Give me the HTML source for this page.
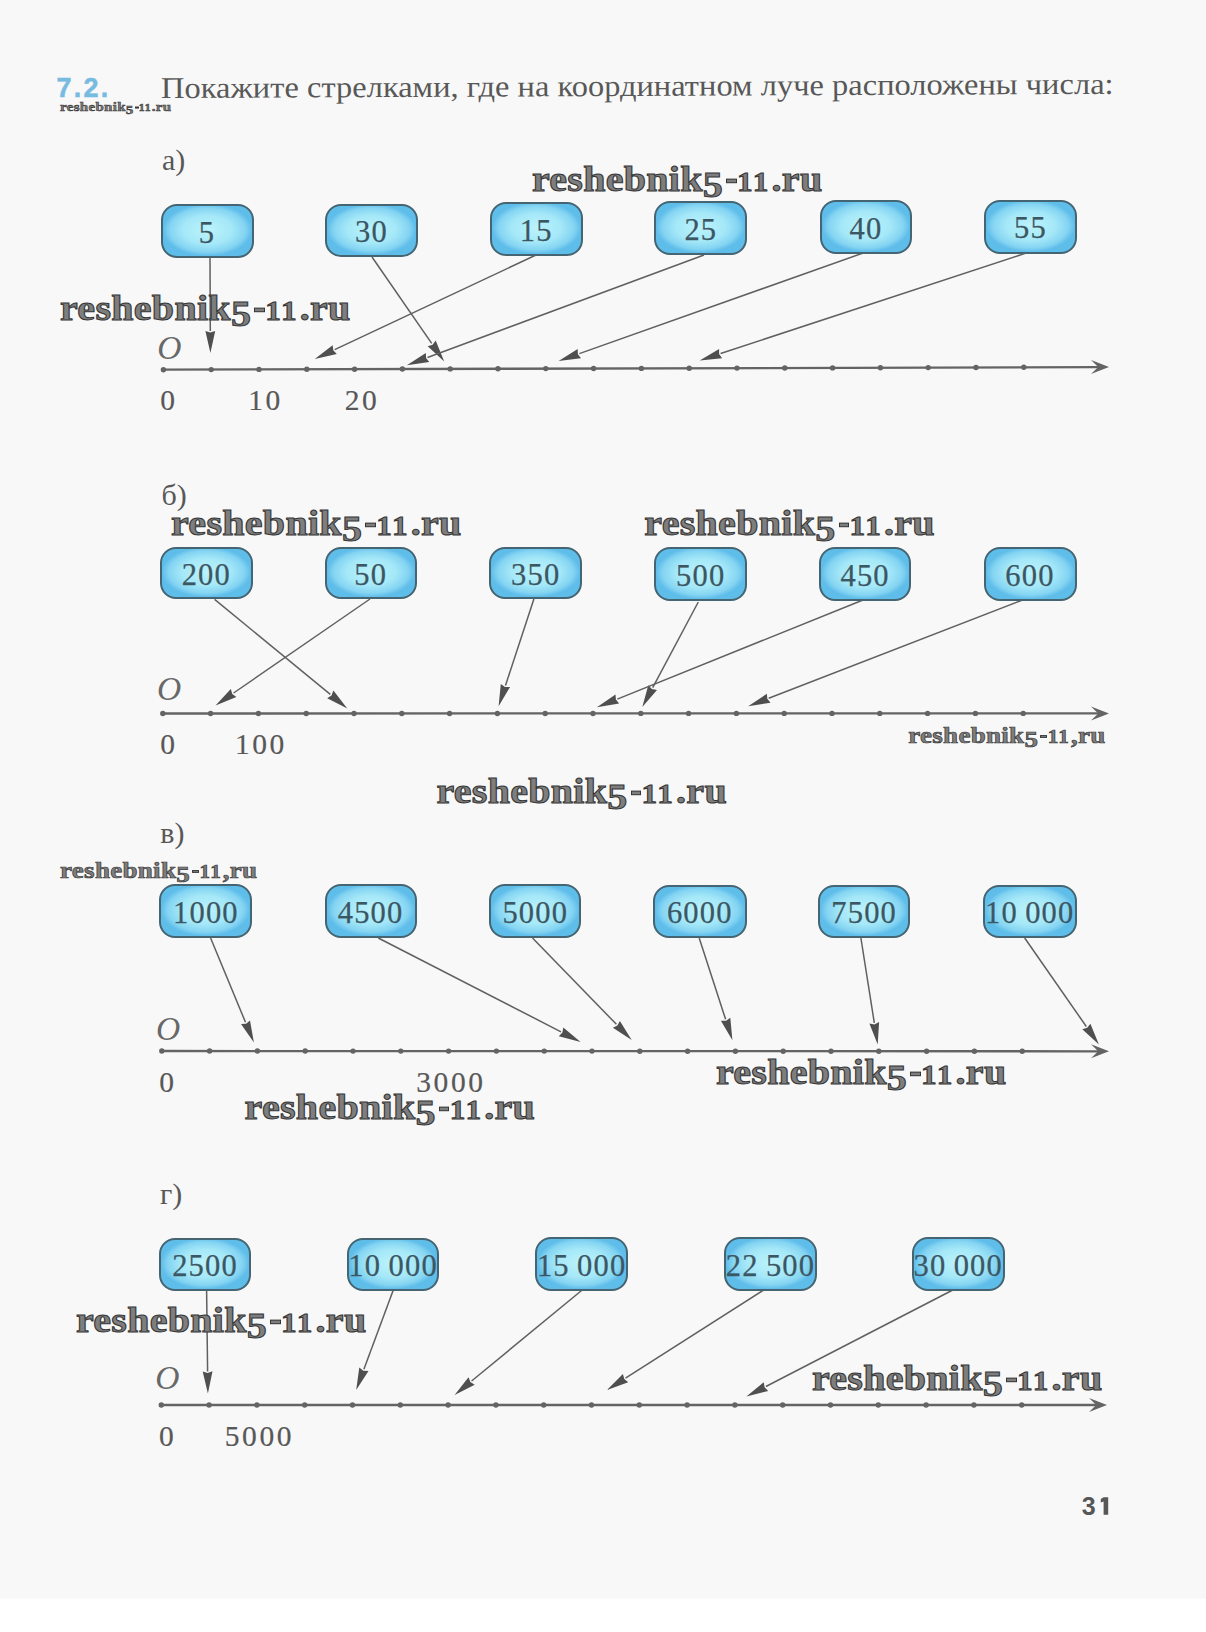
<!DOCTYPE html>
<html><head><meta charset="utf-8"><style>
html,body{margin:0;padding:0;}
body{width:1206px;height:1632px;position:relative;overflow:hidden;background:#fff;}
.page{position:absolute;left:0;top:0;width:1206px;height:1598px;background:#f8f8f8;box-shadow:0 1px 0 #fbfbfb;}
.bx{position:absolute;box-sizing:border-box;border:2px solid #456572;border-radius:16px;
background:radial-gradient(ellipse farthest-side at 50% 48%, #bcf3fb 0%, #a5e8f8 55%, #84d4f2 85%, #5fbdea 100%);
display:flex;align-items:center;justify-content:center;padding-top:4px;}
.bx span{font-family:'Liberation Serif',serif;color:#3c5764;line-height:1;white-space:nowrap;-webkit-text-stroke:0.25px #3c5764;}
.wm{position:absolute;font-family:'Liberation Serif',serif;font-weight:bold;color:#7e7e7e;line-height:1;white-space:nowrap;transform:scaleY(0.88);letter-spacing:0.3px;}
.w5{font-size:1.0em;position:relative;top:0.17em;}
.w1{font-size:0.78em;letter-spacing:0.06em;margin-right:0.04em;}
.wd{display:inline-block;width:0.26em;height:0.12em;background:#7e7e7e;border:1px solid #363636;box-sizing:border-box;margin:0 0.01em 0 0.08em;vertical-align:0.22em;}
svg{position:absolute;left:0;top:0;}
</style></head><body><div class="page"></div>
<svg width="1206" height="1632" viewBox="0 0 1206 1632">
<line x1="162" y1="369.7" x2="1098.2" y2="367.13" stroke="#646464" stroke-width="2.3"/>
<polygon points="1109,367.1 1091,360.1 1098.2,367.1 1091,374.1" fill="#646464"/>
<circle cx="163.4" cy="369.7" r="2.7" fill="#646464"/>
<circle cx="211.2" cy="369.6" r="2.7" fill="#646464"/>
<circle cx="259.0" cy="369.4" r="2.7" fill="#646464"/>
<circle cx="306.8" cy="369.3" r="2.7" fill="#646464"/>
<circle cx="354.6" cy="369.2" r="2.7" fill="#646464"/>
<circle cx="402.4" cy="369.0" r="2.7" fill="#646464"/>
<circle cx="450.2" cy="368.9" r="2.7" fill="#646464"/>
<circle cx="498.0" cy="368.8" r="2.7" fill="#646464"/>
<circle cx="545.8" cy="368.6" r="2.7" fill="#646464"/>
<circle cx="593.6" cy="368.5" r="2.7" fill="#646464"/>
<circle cx="641.4" cy="368.4" r="2.7" fill="#646464"/>
<circle cx="689.2" cy="368.3" r="2.7" fill="#646464"/>
<circle cx="737.0" cy="368.1" r="2.7" fill="#646464"/>
<circle cx="784.8" cy="368.0" r="2.7" fill="#646464"/>
<circle cx="832.6" cy="367.9" r="2.7" fill="#646464"/>
<circle cx="880.4" cy="367.7" r="2.7" fill="#646464"/>
<circle cx="928.2" cy="367.6" r="2.7" fill="#646464"/>
<circle cx="976.0" cy="367.5" r="2.7" fill="#646464"/>
<circle cx="1023.8" cy="367.3" r="2.7" fill="#646464"/>
<line x1="210.0" y1="257.0" x2="210.3" y2="331.0" stroke="#606060" stroke-width="1.5"/>
<polygon points="210.4,353.0 205.4,331.0 210.3,332.5 215.2,331.0" fill="#4f4f4f"/>
<line x1="372.0" y1="257.0" x2="431.7" y2="343.4" stroke="#606060" stroke-width="1.5"/>
<polygon points="444.2,361.5 427.7,346.2 432.6,344.7 435.7,340.6" fill="#4f4f4f"/>
<line x1="536.0" y1="255.0" x2="334.7" y2="349.6" stroke="#606060" stroke-width="1.5"/>
<polygon points="314.8,359.0 332.6,345.2 333.3,350.3 336.8,354.1" fill="#4f4f4f"/>
<line x1="704.0" y1="255.0" x2="427.5" y2="357.5" stroke="#606060" stroke-width="1.5"/>
<polygon points="406.9,365.2 425.8,353.0 426.1,358.1 429.2,362.1" fill="#4f4f4f"/>
<line x1="862.6" y1="253.2" x2="579.3" y2="353.6" stroke="#606060" stroke-width="1.5"/>
<polygon points="558.6,361.0 577.7,349.0 577.9,354.2 581.0,358.3" fill="#4f4f4f"/>
<line x1="1026.0" y1="253.1" x2="720.6" y2="353.5" stroke="#606060" stroke-width="1.5"/>
<polygon points="699.7,360.4 719.1,348.9 719.1,354.0 722.1,358.2" fill="#4f4f4f"/>
<line x1="162" y1="713.5" x2="1098.2" y2="713.40" stroke="#646464" stroke-width="2.3"/>
<polygon points="1109,713.4 1091,706.4 1098.2,713.4 1091,720.4" fill="#646464"/>
<circle cx="162.8" cy="713.5" r="2.7" fill="#646464"/>
<circle cx="210.6" cy="713.5" r="2.7" fill="#646464"/>
<circle cx="258.4" cy="713.5" r="2.7" fill="#646464"/>
<circle cx="306.2" cy="713.5" r="2.7" fill="#646464"/>
<circle cx="354.0" cy="713.5" r="2.7" fill="#646464"/>
<circle cx="401.8" cy="713.5" r="2.7" fill="#646464"/>
<circle cx="449.6" cy="713.5" r="2.7" fill="#646464"/>
<circle cx="497.4" cy="713.5" r="2.7" fill="#646464"/>
<circle cx="545.2" cy="713.5" r="2.7" fill="#646464"/>
<circle cx="593.0" cy="713.5" r="2.7" fill="#646464"/>
<circle cx="640.8" cy="713.4" r="2.7" fill="#646464"/>
<circle cx="688.6" cy="713.4" r="2.7" fill="#646464"/>
<circle cx="736.4" cy="713.4" r="2.7" fill="#646464"/>
<circle cx="784.2" cy="713.4" r="2.7" fill="#646464"/>
<circle cx="832.0" cy="713.4" r="2.7" fill="#646464"/>
<circle cx="879.8" cy="713.4" r="2.7" fill="#646464"/>
<circle cx="927.6" cy="713.4" r="2.7" fill="#646464"/>
<circle cx="975.4" cy="713.4" r="2.7" fill="#646464"/>
<circle cx="1023.2" cy="713.4" r="2.7" fill="#646464"/>
<line x1="214.6" y1="599.4" x2="330.3" y2="694.4" stroke="#606060" stroke-width="1.5"/>
<polygon points="347.3,708.4 327.2,698.2 331.5,695.4 333.4,690.6" fill="#4f4f4f"/>
<line x1="370.0" y1="599.0" x2="233.6" y2="693.0" stroke="#606060" stroke-width="1.5"/>
<polygon points="215.5,705.5 230.8,689.0 232.3,693.9 236.4,697.0" fill="#4f4f4f"/>
<line x1="533.9" y1="599.0" x2="505.5" y2="685.4" stroke="#606060" stroke-width="1.5"/>
<polygon points="498.6,706.3 500.8,683.9 505.0,686.9 510.1,686.9" fill="#4f4f4f"/>
<line x1="698.3" y1="602.0" x2="652.7" y2="687.6" stroke="#606060" stroke-width="1.5"/>
<polygon points="642.3,707.0 648.3,685.3 651.9,688.9 657.0,689.9" fill="#4f4f4f"/>
<line x1="863.0" y1="600.0" x2="617.3" y2="699.1" stroke="#606060" stroke-width="1.5"/>
<polygon points="596.9,707.3 615.5,694.5 615.9,699.6 619.1,703.6" fill="#4f4f4f"/>
<line x1="1022.6" y1="600.0" x2="768.7" y2="698.3" stroke="#606060" stroke-width="1.5"/>
<polygon points="748.2,706.2 766.9,693.7 767.3,698.8 770.5,702.8" fill="#4f4f4f"/>
<line x1="162" y1="1051" x2="1098.2" y2="1051.30" stroke="#646464" stroke-width="2.3"/>
<polygon points="1109,1051.3 1091,1044.3 1098.2,1051.3 1091,1058.3" fill="#646464"/>
<circle cx="161.8" cy="1051.0" r="2.7" fill="#646464"/>
<circle cx="209.6" cy="1051.0" r="2.7" fill="#646464"/>
<circle cx="257.4" cy="1051.0" r="2.7" fill="#646464"/>
<circle cx="305.2" cy="1051.0" r="2.7" fill="#646464"/>
<circle cx="353.0" cy="1051.1" r="2.7" fill="#646464"/>
<circle cx="400.8" cy="1051.1" r="2.7" fill="#646464"/>
<circle cx="448.6" cy="1051.1" r="2.7" fill="#646464"/>
<circle cx="496.4" cy="1051.1" r="2.7" fill="#646464"/>
<circle cx="544.2" cy="1051.1" r="2.7" fill="#646464"/>
<circle cx="592.0" cy="1051.1" r="2.7" fill="#646464"/>
<circle cx="639.8" cy="1051.2" r="2.7" fill="#646464"/>
<circle cx="687.6" cy="1051.2" r="2.7" fill="#646464"/>
<circle cx="735.4" cy="1051.2" r="2.7" fill="#646464"/>
<circle cx="783.2" cy="1051.2" r="2.7" fill="#646464"/>
<circle cx="831.0" cy="1051.2" r="2.7" fill="#646464"/>
<circle cx="878.8" cy="1051.2" r="2.7" fill="#646464"/>
<circle cx="926.6" cy="1051.2" r="2.7" fill="#646464"/>
<circle cx="974.4" cy="1051.3" r="2.7" fill="#646464"/>
<circle cx="1022.2" cy="1051.3" r="2.7" fill="#646464"/>
<line x1="210.6" y1="938.0" x2="245.5" y2="1022.3" stroke="#606060" stroke-width="1.5"/>
<polygon points="253.9,1042.6 241.0,1024.1 246.1,1023.7 250.0,1020.4" fill="#4f4f4f"/>
<line x1="378.3" y1="938.0" x2="561.0" y2="1031.8" stroke="#606060" stroke-width="1.5"/>
<polygon points="580.6,1041.9 558.8,1036.2 562.4,1032.6 563.3,1027.5" fill="#4f4f4f"/>
<line x1="532.5" y1="938.0" x2="616.4" y2="1024.3" stroke="#606060" stroke-width="1.5"/>
<polygon points="631.7,1040.1 612.9,1027.7 617.4,1025.4 619.9,1020.9" fill="#4f4f4f"/>
<line x1="699.2" y1="938.0" x2="725.6" y2="1019.3" stroke="#606060" stroke-width="1.5"/>
<polygon points="732.4,1040.2 720.9,1020.8 726.1,1020.7 730.3,1017.8" fill="#4f4f4f"/>
<line x1="860.9" y1="938.0" x2="874.3" y2="1022.9" stroke="#606060" stroke-width="1.5"/>
<polygon points="877.7,1044.6 869.4,1023.6 874.5,1024.4 879.1,1022.1" fill="#4f4f4f"/>
<line x1="1024.7" y1="938.0" x2="1086.3" y2="1026.5" stroke="#606060" stroke-width="1.5"/>
<polygon points="1098.9,1044.6 1082.3,1029.3 1087.2,1027.8 1090.4,1023.7" fill="#4f4f4f"/>
<line x1="162" y1="1405" x2="1096.2" y2="1405.00" stroke="#646464" stroke-width="2.3"/>
<polygon points="1107,1405 1089,1398 1096.2,1405 1089,1412" fill="#646464"/>
<circle cx="161.3" cy="1405.0" r="2.7" fill="#646464"/>
<circle cx="209.1" cy="1405.0" r="2.7" fill="#646464"/>
<circle cx="256.9" cy="1405.0" r="2.7" fill="#646464"/>
<circle cx="304.7" cy="1405.0" r="2.7" fill="#646464"/>
<circle cx="352.5" cy="1405.0" r="2.7" fill="#646464"/>
<circle cx="400.3" cy="1405.0" r="2.7" fill="#646464"/>
<circle cx="448.1" cy="1405.0" r="2.7" fill="#646464"/>
<circle cx="495.9" cy="1405.0" r="2.7" fill="#646464"/>
<circle cx="543.7" cy="1405.0" r="2.7" fill="#646464"/>
<circle cx="591.5" cy="1405.0" r="2.7" fill="#646464"/>
<circle cx="639.3" cy="1405.0" r="2.7" fill="#646464"/>
<circle cx="687.1" cy="1405.0" r="2.7" fill="#646464"/>
<circle cx="734.9" cy="1405.0" r="2.7" fill="#646464"/>
<circle cx="782.7" cy="1405.0" r="2.7" fill="#646464"/>
<circle cx="830.5" cy="1405.0" r="2.7" fill="#646464"/>
<circle cx="878.3" cy="1405.0" r="2.7" fill="#646464"/>
<circle cx="926.1" cy="1405.0" r="2.7" fill="#646464"/>
<circle cx="973.9" cy="1405.0" r="2.7" fill="#646464"/>
<circle cx="1021.7" cy="1405.0" r="2.7" fill="#646464"/>
<line x1="206.6" y1="1290.0" x2="207.6" y2="1371.4" stroke="#606060" stroke-width="1.5"/>
<polygon points="207.9,1393.4 202.7,1371.5 207.6,1372.9 212.5,1371.3" fill="#4f4f4f"/>
<line x1="393.3" y1="1290.0" x2="363.9" y2="1369.3" stroke="#606060" stroke-width="1.5"/>
<polygon points="356.2,1389.9 359.3,1367.6 363.3,1370.7 368.5,1371.0" fill="#4f4f4f"/>
<line x1="582.2" y1="1290.0" x2="471.6" y2="1381.0" stroke="#606060" stroke-width="1.5"/>
<polygon points="454.6,1395.0 468.5,1377.2 470.4,1382.0 474.7,1384.8" fill="#4f4f4f"/>
<line x1="763.8" y1="1290.0" x2="625.5" y2="1378.2" stroke="#606060" stroke-width="1.5"/>
<polygon points="607.0,1390.0 622.9,1374.0 624.3,1379.0 628.2,1382.3" fill="#4f4f4f"/>
<line x1="952.8" y1="1290.0" x2="765.9" y2="1386.5" stroke="#606060" stroke-width="1.5"/>
<polygon points="746.4,1396.6 763.7,1382.2 764.6,1387.2 768.2,1390.9" fill="#4f4f4f"/>
<path d="M1103.6,1497.2 L1108.2,1497.2 L1108.2,1514.8 L1103.6,1514.8 L1103.6,1501.6 L1100.8,1502.4 L1100.8,1499.0 Z" fill="#575757"/>
</svg>
<div style="position:absolute;left:56.5px;top:75.2px;font-family:'Liberation Sans',sans-serif;font-size:27px;line-height:1;font-weight:bold;font-style:normal;color:#78bbe0;letter-spacing:2.2px;white-space:nowrap;-webkit-text-stroke:0.5px #78bbe0;">7.2.</div>
<div class="wm" style="left:60.0px;top:98.6px;font-size:15px;transform-origin:0 12.6px;-webkit-text-stroke:0.60px #363636;">reshebnik<span class="w5">5</span><span class="wd"></span><span class="w1">11</span>.ru</div>
<div style="position:absolute;left:160.5px;top:72.5px;font-family:'Liberation Serif',serif;font-size:30px;line-height:1;font-weight:normal;font-style:normal;color:#585858;letter-spacing:0px;white-space:nowrap;transform:rotate(-0.253deg) scaleX(1.083);transform-origin:0 25.1px;">Покажите стрелками, где на координатном луче расположены числа:</div>
<div style="position:absolute;left:162.0px;top:144.9px;font-family:'Liberation Serif',serif;font-size:30px;line-height:1;font-weight:normal;font-style:normal;color:#585858;letter-spacing:0px;white-space:nowrap;">а)</div>
<div class="bx" style="left:160.5px;top:204.0px;width:93.0px;height:53.5px;"><span style="font-size:30.5px;letter-spacing:1.2px">5</span></div>
<div class="bx" style="left:325.0px;top:203.7px;width:93.0px;height:53.5px;"><span style="font-size:30.5px;letter-spacing:1.2px">30</span></div>
<div class="bx" style="left:489.6px;top:202.4px;width:93.4px;height:53.6px;"><span style="font-size:30.5px;letter-spacing:1.2px">15</span></div>
<div class="bx" style="left:654.2px;top:201.2px;width:93.3px;height:54.0px;"><span style="font-size:30.5px;letter-spacing:1.2px">25</span></div>
<div class="bx" style="left:819.6px;top:200.4px;width:92.8px;height:53.8px;"><span style="font-size:30.5px;letter-spacing:1.2px">40</span></div>
<div class="bx" style="left:984.2px;top:199.5px;width:92.7px;height:54.0px;"><span style="font-size:30.5px;letter-spacing:1.2px">55</span></div>
<div style="position:absolute;left:157.3px;top:331.4px;font-family:'Liberation Serif',serif;font-size:33.5px;line-height:1;font-weight:normal;font-style:italic;color:#686868;letter-spacing:0px;white-space:nowrap;">O</div>
<div style="position:absolute;left:160.2px;top:385.9px;font-family:'Liberation Serif',serif;font-size:29.5px;line-height:1;font-weight:normal;font-style:normal;color:#585858;letter-spacing:2.6px;white-space:nowrap;-webkit-text-stroke:0.2px #585858;">0</div>
<div style="position:absolute;left:248.2px;top:385.9px;font-family:'Liberation Serif',serif;font-size:29.5px;line-height:1;font-weight:normal;font-style:normal;color:#585858;letter-spacing:2.6px;white-space:nowrap;-webkit-text-stroke:0.2px #585858;">10</div>
<div style="position:absolute;left:344.7px;top:385.9px;font-family:'Liberation Serif',serif;font-size:29.5px;line-height:1;font-weight:normal;font-style:normal;color:#585858;letter-spacing:2.6px;white-space:nowrap;-webkit-text-stroke:0.2px #585858;">20</div>
<div class="wm" style="left:531.9px;top:158.3px;font-size:40px;transform-origin:0 33.5px;-webkit-text-stroke:1.15px #363636;">reshebnik<span class="w5">5</span><span class="wd"></span><span class="w1">11</span>.ru</div>
<div class="wm" style="left:60.0px;top:286.5px;font-size:40px;transform-origin:0 33.5px;-webkit-text-stroke:1.15px #363636;">reshebnik<span class="w5">5</span><span class="wd"></span><span class="w1">11</span>.ru</div>
<div style="position:absolute;left:161.5px;top:479.9px;font-family:'Liberation Serif',serif;font-size:30px;line-height:1;font-weight:normal;font-style:normal;color:#585858;letter-spacing:0px;white-space:nowrap;">б)</div>
<div class="bx" style="left:159.9px;top:546.7px;width:92.9px;height:52.7px;"><span style="font-size:30.5px;letter-spacing:1.2px">200</span></div>
<div class="bx" style="left:324.5px;top:546.7px;width:92.5px;height:52.7px;"><span style="font-size:30.5px;letter-spacing:1.2px">50</span></div>
<div class="bx" style="left:489.0px;top:546.7px;width:93.4px;height:52.7px;"><span style="font-size:30.5px;letter-spacing:1.2px">350</span></div>
<div class="bx" style="left:653.9px;top:547.0px;width:93.6px;height:53.5px;"><span style="font-size:30.5px;letter-spacing:1.2px">500</span></div>
<div class="bx" style="left:819.0px;top:547.0px;width:92.3px;height:53.5px;"><span style="font-size:30.5px;letter-spacing:1.2px">450</span></div>
<div class="bx" style="left:983.5px;top:547.0px;width:93.1px;height:53.9px;"><span style="font-size:30.5px;letter-spacing:1.2px">600</span></div>
<div style="position:absolute;left:157.1px;top:671.8px;font-family:'Liberation Serif',serif;font-size:33.5px;line-height:1;font-weight:normal;font-style:italic;color:#686868;letter-spacing:0px;white-space:nowrap;">O</div>
<div style="position:absolute;left:160.2px;top:729.9px;font-family:'Liberation Serif',serif;font-size:29.5px;line-height:1;font-weight:normal;font-style:normal;color:#585858;letter-spacing:2.6px;white-space:nowrap;-webkit-text-stroke:0.2px #585858;">0</div>
<div style="position:absolute;left:234.9px;top:729.9px;font-family:'Liberation Serif',serif;font-size:29.5px;line-height:1;font-weight:normal;font-style:normal;color:#585858;letter-spacing:2.6px;white-space:nowrap;-webkit-text-stroke:0.2px #585858;">100</div>
<div class="wm" style="left:171.0px;top:501.5px;font-size:40px;transform-origin:0 33.5px;-webkit-text-stroke:1.15px #363636;">reshebnik<span class="w5">5</span><span class="wd"></span><span class="w1">11</span>.ru</div>
<div class="wm" style="left:644.3px;top:502.3px;font-size:40px;transform-origin:0 33.5px;-webkit-text-stroke:1.15px #363636;">reshebnik<span class="w5">5</span><span class="wd"></span><span class="w1">11</span>.ru</div>
<div class="wm" style="left:908.2px;top:720.8px;font-size:27px;transform-origin:0 22.6px;-webkit-text-stroke:0.78px #363636;">reshebnik<span class="w5">5</span><span class="wd"></span><span class="w1">11</span>,ru</div>
<div class="wm" style="left:436.4px;top:769.9px;font-size:40px;transform-origin:0 33.5px;-webkit-text-stroke:1.15px #363636;">reshebnik<span class="w5">5</span><span class="wd"></span><span class="w1">11</span>.ru</div>
<div style="position:absolute;left:160.3px;top:817.7px;font-family:'Liberation Serif',serif;font-size:30px;line-height:1;font-weight:normal;font-style:normal;color:#585858;letter-spacing:0px;white-space:nowrap;">в)</div>
<div class="wm" style="left:60.0px;top:856.2px;font-size:27px;transform-origin:0 22.6px;-webkit-text-stroke:0.78px #363636;">reshebnik<span class="w5">5</span><span class="wd"></span><span class="w1">11</span>,ru</div>
<div class="bx" style="left:159.4px;top:884.4px;width:93.0px;height:53.7px;"><span style="font-size:30.5px;letter-spacing:1.2px">1000</span></div>
<div class="bx" style="left:324.6px;top:884.4px;width:92.0px;height:53.7px;"><span style="font-size:30.5px;letter-spacing:1.2px">4500</span></div>
<div class="bx" style="left:489.3px;top:884.4px;width:92.0px;height:53.7px;"><span style="font-size:30.5px;letter-spacing:1.2px">5000</span></div>
<div class="bx" style="left:653.0px;top:884.6px;width:93.6px;height:53.9px;"><span style="font-size:30.5px;letter-spacing:1.2px">6000</span></div>
<div class="bx" style="left:817.8px;top:884.6px;width:92.7px;height:53.9px;"><span style="font-size:30.5px;letter-spacing:1.2px">7500</span></div>
<div class="bx" style="left:983.0px;top:884.6px;width:93.5px;height:53.9px;"><span style="font-size:30.5px;letter-spacing:1.2px">10&#8201;000</span></div>
<div style="position:absolute;left:156.1px;top:1011.5px;font-family:'Liberation Serif',serif;font-size:33.5px;line-height:1;font-weight:normal;font-style:italic;color:#686868;letter-spacing:0px;white-space:nowrap;">O</div>
<div style="position:absolute;left:159.2px;top:1068.2px;font-family:'Liberation Serif',serif;font-size:29.5px;line-height:1;font-weight:normal;font-style:normal;color:#585858;letter-spacing:2.6px;white-space:nowrap;-webkit-text-stroke:0.2px #585858;">0</div>
<div style="position:absolute;left:416.2px;top:1068.2px;font-family:'Liberation Serif',serif;font-size:29.5px;line-height:1;font-weight:normal;font-style:normal;color:#585858;letter-spacing:2.6px;white-space:nowrap;-webkit-text-stroke:0.2px #585858;">3000</div>
<div class="wm" style="left:244.6px;top:1086.3px;font-size:40px;transform-origin:0 33.5px;-webkit-text-stroke:1.15px #363636;">reshebnik<span class="w5">5</span><span class="wd"></span><span class="w1">11</span>.ru</div>
<div class="wm" style="left:715.9px;top:1050.5px;font-size:40px;transform-origin:0 33.5px;-webkit-text-stroke:1.15px #363636;">reshebnik<span class="w5">5</span><span class="wd"></span><span class="w1">11</span>.ru</div>
<div style="position:absolute;left:160.0px;top:1178.7px;font-family:'Liberation Serif',serif;font-size:30px;line-height:1;font-weight:normal;font-style:normal;color:#585858;letter-spacing:0px;white-space:nowrap;">г)</div>
<div class="bx" style="left:159.2px;top:1237.7px;width:91.8px;height:53.0px;"><span style="font-size:30.5px;letter-spacing:1.2px">2500</span></div>
<div class="bx" style="left:346.8px;top:1237.7px;width:92.7px;height:53.0px;"><span style="font-size:30.5px;letter-spacing:1.2px">10&#8201;000</span></div>
<div class="bx" style="left:534.9px;top:1237.4px;width:93.6px;height:53.2px;"><span style="font-size:30.5px;letter-spacing:1.2px">15&#8201;000</span></div>
<div class="bx" style="left:724.0px;top:1237.4px;width:93.0px;height:53.2px;"><span style="font-size:30.5px;letter-spacing:1.2px">22&#8201;500</span></div>
<div class="bx" style="left:911.5px;top:1237.4px;width:93.5px;height:53.2px;"><span style="font-size:30.5px;letter-spacing:1.2px">30&#8201;000</span></div>
<div style="position:absolute;left:155.2px;top:1360.9px;font-family:'Liberation Serif',serif;font-size:33.5px;line-height:1;font-weight:normal;font-style:italic;color:#686868;letter-spacing:0px;white-space:nowrap;">O</div>
<div style="position:absolute;left:158.9px;top:1421.9px;font-family:'Liberation Serif',serif;font-size:29.5px;line-height:1;font-weight:normal;font-style:normal;color:#585858;letter-spacing:2.6px;white-space:nowrap;-webkit-text-stroke:0.2px #585858;">0</div>
<div style="position:absolute;left:224.7px;top:1421.9px;font-family:'Liberation Serif',serif;font-size:29.5px;line-height:1;font-weight:normal;font-style:normal;color:#585858;letter-spacing:2.6px;white-space:nowrap;-webkit-text-stroke:0.2px #585858;">5000</div>
<div class="wm" style="left:75.9px;top:1298.5px;font-size:40px;transform-origin:0 33.5px;-webkit-text-stroke:1.15px #363636;">reshebnik<span class="w5">5</span><span class="wd"></span><span class="w1">11</span>.ru</div>
<div class="wm" style="left:811.9px;top:1357.3px;font-size:40px;transform-origin:0 33.5px;-webkit-text-stroke:1.15px #363636;">reshebnik<span class="w5">5</span><span class="wd"></span><span class="w1">11</span>.ru</div>
<div style="position:absolute;left:1081.8px;top:1493.6px;font-family:'Liberation Sans',sans-serif;font-size:25px;line-height:1;font-weight:bold;font-style:normal;color:#575757;letter-spacing:0px;white-space:nowrap;">3</div>
</body></html>
